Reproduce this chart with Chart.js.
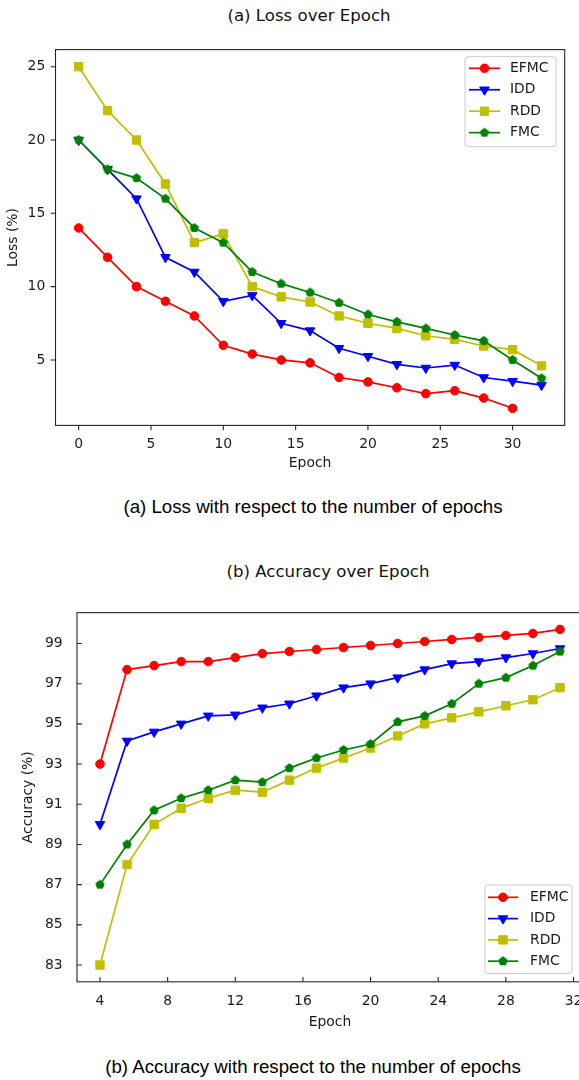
<!DOCTYPE html>
<html>
<head>
<meta charset="utf-8">
<script src="https://cdn.jsdelivr.net/npm/chart.js@4.4.0/dist/chart.umd.min.js"></script>
<style>
html, body { margin: 0; padding: 0; background: #fff; }
#wrap { position: relative; width: 579px; height: 1080px; overflow: hidden; background: #fff; }
.t { position: absolute; white-space: nowrap; transform: translate(-50%, -50%); color: #111; }
.title { font-family: 'DejaVu Sans', sans-serif; font-size: 16.6px; }
.cap { font-family: 'Liberation Sans', Arial, sans-serif; font-size: 18.7px; color: #000; }
canvas { position: absolute; left: 0; }
</style>
</head>
<body>
<div id="wrap">
  <div class="t title" style="left:309px; top:15px">(a) Loss over Epoch</div>
  <canvas id="loss" width="579" height="480" style="top:0"></canvas>
  <div class="t cap" style="left:313px; top:507px">(a) Loss with respect to the number of epochs</div>
  <div class="t title" style="left:328px; top:571px">(b) Accuracy over Epoch</div>
  <canvas id="acc" width="600" height="450" style="top:590px"></canvas>
  <div class="t cap" style="left:313px; top:1067px">(b) Accuracy with respect to the number of epochs</div>
</div>
<script>
// ---- data ----
const seriesNames = ['EFMC', 'IDD', 'RDD', 'FMC'];

const lossEpochs = [0, 2, 4, 6, 8, 10, 12, 14, 16, 18, 20, 22, 24, 26, 28, 30, 32];
const efmcLoss = [14, 12, 10, 9, 8, 6, 5.4, 5.0, 4.8, 3.8, 3.5, 3.1, 2.7, 2.9, 2.4, 1.7];
const iddLoss  = [20, 18, 16, 12, 11, 9, 9.4, 7.5, 7.0, 5.8, 5.25, 4.7, 4.45, 4.65, 3.8, 3.55, 3.28];
const rddLoss  = [25, 22, 20, 17, 13, 13.6, 10, 9.3, 8.95, 8.0, 7.5, 7.15, 6.65, 6.4, 5.95, 5.7, 4.6];
const fmcLoss  = [20, 18, 17.4, 16, 14, 13, 11, 10.2, 9.6, 8.9, 8.1, 7.6, 7.15, 6.7, 6.3, 5.0, 3.75];
const lossXTicks = [0, 5, 10, 15, 20, 25, 30];
const lossYTicks = [5, 10, 15, 20, 25];

const accEpochs = [4, 5.6, 7.2, 8.8, 10.4, 12, 13.6, 15.2, 16.8, 18.4, 20, 21.6, 23.2, 24.8, 26.4, 28, 29.6, 31.2];
const efmcAcc = [93, 97.7, 97.9, 98.1, 98.1, 98.3, 98.5, 98.6, 98.7, 98.8, 98.9, 99.0, 99.1, 99.2, 99.3, 99.4, 99.5, 99.7];
const iddAcc  = [90, 94.15, 94.6, 95.0, 95.4, 95.45, 95.8, 96.0, 96.4, 96.8, 97.0, 97.3, 97.7, 98.0, 98.1, 98.3, 98.5, 98.75];
const rddAcc  = [83, 88, 90, 90.8, 91.3, 91.7, 91.6, 92.2, 92.8, 93.3, 93.8, 94.4, 95.0, 95.3, 95.6, 95.9, 96.2, 96.8];
const fmcAcc  = [87, 89, 90.7, 91.3, 91.7, 92.2, 92.1, 92.8, 93.3, 93.7, 94.0, 95.1, 95.4, 96.0, 97.0, 97.3, 97.9, 98.6];
const accXTicks = [4, 8, 12, 16, 20, 24, 28, 32];
const accYTicks = [83, 85, 87, 89, 91, 93, 95, 97, 99];

// ---- styling ----
const colors = ['#ff0000', '#0000ff', '#bfbf00', '#008000'];
const tickFont = { family: 'DejaVu Sans', size: 13.9 };
const textColor = '#1a1a1a';

// matplotlib 'p' marker (pentagon) as a small canvas
function pentagon(color, r) {
    const s = Math.ceil(2 * r + 3);
    const c = document.createElement('canvas');
    c.width = s; c.height = s;
    const g = c.getContext('2d');
    g.beginPath();
    for (let k = 0; k < 5; k++) {
        const a = -Math.PI / 2 + k * 2 * Math.PI / 5;
        const px = s / 2 + r * Math.cos(a), py = s / 2 + r * Math.sin(a);
        if (k) g.lineTo(px, py); else g.moveTo(px, py);
    }
    g.closePath();
    g.fillStyle = color; g.fill();
    g.strokeStyle = color; g.lineWidth = 1; g.stroke();
    return c;
}

const markers = [
    { pointStyle: 'circle', radius: 4.3, rotation: 0 },
    { pointStyle: 'triangle', radius: 5.5, rotation: 180 },
    { pointStyle: 'rect', radius: 5.9, rotation: 0 },
    { pointStyle: pentagon(colors[3], 4.4), radius: 5, rotation: 0 }
];

function makeSets(xs, ys) {
    return ys.map((vals, i) => ({
        label: seriesNames[i],
        data: vals.map((v, j) => ({ x: xs[j], y: v })),
        borderColor: colors[i],
        backgroundColor: colors[i],
        borderWidth: 1.7,
        pointStyle: markers[i].pointStyle,
        pointRadius: markers[i].radius,
        pointRotation: markers[i].rotation,
        pointBorderWidth: 1,
        pointBackgroundColor: colors[i],
        pointBorderColor: colors[i],
        order: 4 - i,
        tension: 0
    }));
}

// frame, tick marks and matplotlib-like legend
const figurePlugin = {
    id: 'figure',
    afterDatasetsDraw(chart, args, opts) {
        const { ctx, chartArea: a, scales } = chart;
        ctx.save();
        ctx.strokeStyle = '#262626';
        ctx.lineWidth = 1.1;
        ctx.strokeRect(a.left, a.top, a.right - a.left, a.bottom - a.top);
        const d = opts.dir === 'in' ? -1 : 1, len = 4.9;
        ctx.beginPath();
        scales.x.ticks.forEach(t => {
            const px = scales.x.getPixelForValue(t.value);
            ctx.moveTo(px, a.bottom); ctx.lineTo(px, a.bottom + d * len);
        });
        scales.y.ticks.forEach(t => {
            const py = scales.y.getPixelForValue(t.value);
            ctx.moveTo(a.left, py); ctx.lineTo(a.left - d * len, py);
        });
        ctx.stroke();
        ctx.restore();
    },
    afterDraw(chart, args, opts) {
        const lg = opts.legend;
        if (!lg) return;
        const ctx = chart.ctx;
        ctx.save();
        ctx.beginPath();
        ctx.roundRect(lg.box[0], lg.box[1], lg.box[2] - lg.box[0], lg.box[3] - lg.box[1], 3);
        ctx.fillStyle = 'rgba(255,255,255,0.8)';
        ctx.fill();
        ctx.strokeStyle = '#cccccc';
        ctx.lineWidth = 1;
        ctx.stroke();
        chart.data.datasets.forEach((ds, i) => {
            const y = lg.y0 + i * lg.dy;
            ctx.strokeStyle = ds.borderColor;
            ctx.lineWidth = 1.7;
            ctx.beginPath();
            ctx.moveTo(lg.x0, y); ctx.lineTo(lg.x0 + lg.len, y);
            ctx.stroke();
            ctx.fillStyle = ds.pointBackgroundColor;
            ctx.strokeStyle = ds.pointBorderColor;
            ctx.lineWidth = 1;
            Chart.helpers.drawPoint(ctx, {
                pointStyle: ds.pointStyle, radius: ds.pointRadius,
                rotation: ds.pointRotation, borderWidth: 1
            }, lg.x0 + lg.len / 2, y);
            ctx.fillStyle = textColor;
            ctx.font = '13.9px "DejaVu Sans"';
            ctx.textBaseline = 'middle';
            ctx.textAlign = 'left';
            ctx.fillText(ds.label, lg.x0 + lg.len + lg.gap, y);
        });
        ctx.restore();
    }
};

function axisSet(o) {
    return {
        x: {
            type: 'linear', min: o.xmin, max: o.xmax,
            afterBuildTicks: s => { s.ticks = o.xticks.map(v => ({ value: v })); },
            afterFit: s => { s.height = o.xh; },
            grid: { display: false, drawTicks: false }, border: { display: false },
            ticks: { padding: o.xpad, color: textColor, font: tickFont, maxRotation: 0, autoSkip: false },
            title: { display: true, text: 'Epoch', color: textColor, font: tickFont, padding: { top: 0, bottom: o.xtitlePad } }
        },
        y: {
            type: 'linear', min: o.ymin, max: o.ymax,
            afterBuildTicks: s => { s.ticks = o.yticks.map(v => ({ value: v })); },
            afterFit: s => { s.width = o.yw; },
            grid: { display: false, drawTicks: false }, border: { display: false },
            ticks: { padding: o.ypad, color: textColor, font: tickFont, autoSkip: false },
            title: { display: true, text: o.ylabel, color: textColor, font: tickFont, padding: { top: o.ytitlePad, bottom: 0 } }
        }
    };
}

new Chart(document.getElementById('loss'), {
    type: 'line',
    data: { datasets: makeSets(lossEpochs, [efmcLoss, iddLoss, rddLoss, fmcLoss]) },
    options: {
        responsive: false,
        animation: false,
        layout: { padding: { top: 49.6, right: 14.3, left: 0, bottom: 0 } },
        scales: axisSet({
            xmin: -1.6, xmax: 33.6, xticks: lossXTicks, xh: 54.6, xpad: 10.2, xtitlePad: 8.6,
            ymin: 0.535, ymax: 26.165, yticks: lossYTicks, yw: 55.5, ypad: 10.2, ytitlePad: 5.2,
            ylabel: 'Loss (%)'
        }),
        plugins: {
            legend: { display: false },
            tooltip: { enabled: false },
            figure: {
                dir: 'out',
                legend: { box: [465, 56.7, 556, 146.7], x0: 469, len: 31, gap: 10, y0: 68.3, dy: 21.45 }
            }
        }
    },
    plugins: [figurePlugin]
});

new Chart(document.getElementById('acc'), {
    type: 'line',
    data: { datasets: makeSets(accEpochs, [efmcAcc, iddAcc, rddAcc, fmcAcc]) },
    options: {
        responsive: false,
        animation: false,
        layout: { padding: { top: 15.2, right: 17, left: 0, bottom: 0 } },
        scales: axisSet({
            xmin: 2.64, xmax: 32.56, xticks: accXTicks, xh: 58.2, xpad: 11.5, xtitlePad: 9.6,
            ymin: 82.165, ymax: 100.535, yticks: accYTicks, yw: 77, ypad: 14.3, ytitlePad: 19.6,
            ylabel: 'Accuracy (%)'
        }),
        plugins: {
            legend: { display: false },
            tooltip: { enabled: false },
            figure: {
                dir: 'in',
                legend: { box: [485, 295, 572, 383.5], x0: 488, len: 30, gap: 12, y0: 307.3, dy: 21.3 }
            }
        }
    },
    plugins: [figurePlugin]
});
</script>
</body>
</html>
